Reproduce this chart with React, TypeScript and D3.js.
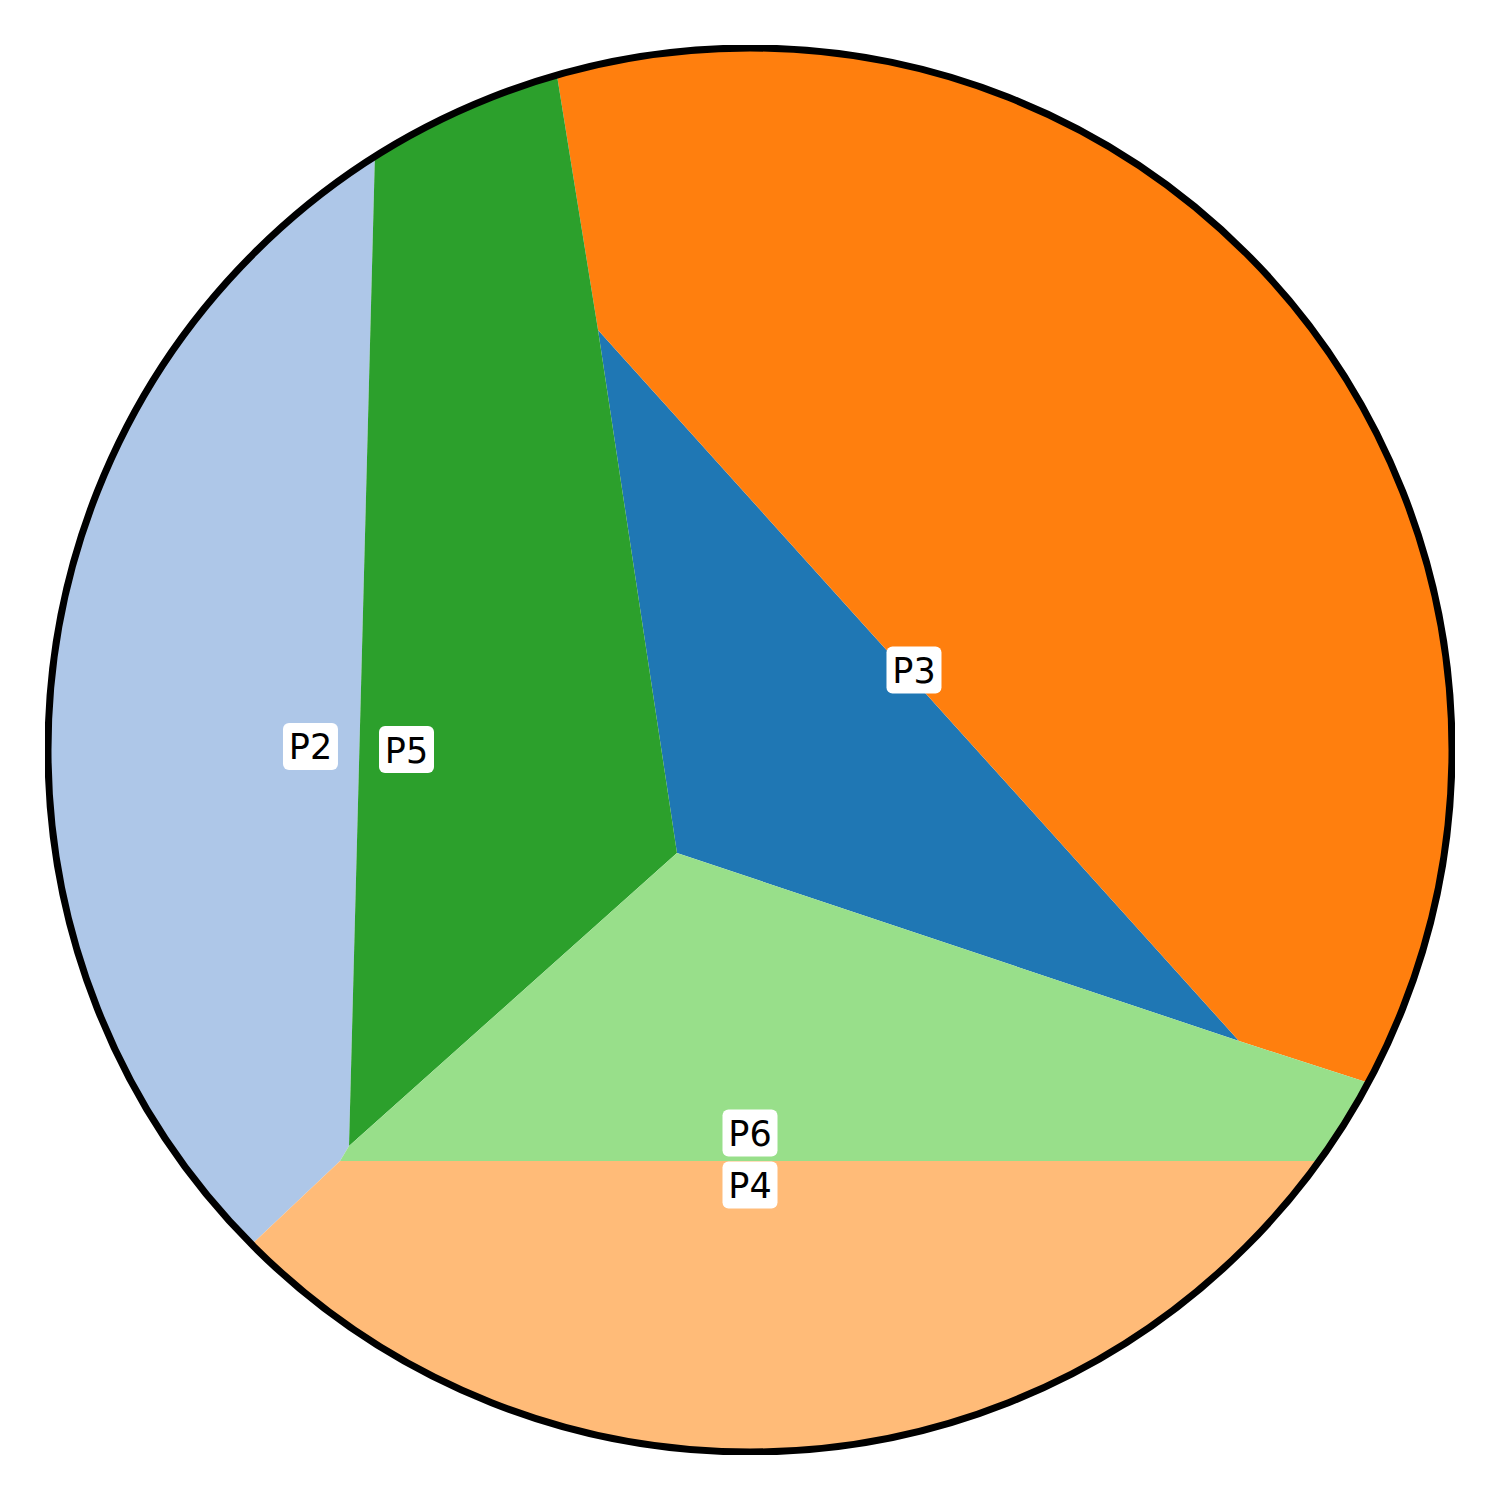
import React from 'react';
import * as d3 from 'd3';

// cells of the partition, in unit-disc coordinates (polygons run past the rim, the disc clips them)
const cellNames = ['P1', 'P2', 'P3', 'P4', 'P5', 'P6'];
const cellColours = ['#1f77b4', '#aec7e8', '#ff7f0e', '#ffbb78', '#2ca02c', '#98df8a'];

const cellP1: [number, number][] = [[-0.2165, 0.5983], [0.6966, -0.4145], [-0.104, -0.1467]];
const cellP2: [number, number][] = [[-1.21, 1.21], [-0.5248, 1.21], [-0.5712, -0.5641], [-0.584, -0.5855], [-1.21, -1.1766]];
const cellP3: [number, number][] = [[-0.3151, 1.21], [1.21, 1.21], [1.21, -0.5806], [0.6966, -0.4145], [-0.2165, 0.5983]];
const cellP4: [number, number][] = [[-0.584, -0.5855], [1.21, -0.5855], [1.21, -1.21], [-1.21, -1.21], [-1.21, -1.1766]];
const cellP5: [number, number][] = [[-0.5248, 1.21], [-0.3151, 1.21], [-0.2165, 0.5983], [-0.104, -0.1467], [-0.5712, -0.5641]];
const cellP6: [number, number][] = [[-0.104, -0.1467], [0.6966, -0.4145], [1.21, -0.5806], [1.21, -0.5855], [-0.584, -0.5855], [-0.5712, -0.5641]];
const cells = [cellP1, cellP2, cellP3, cellP4, cellP5, cellP6];

// labelled sites (P1 has no label in the picture)
const labelNames = ['P3', 'P2', 'P5', 'P6', 'P4'];
const labelX = [0.2336, -0.6261, -0.4893, 0.0, 0.0];
const labelY = [0.114, 0.005, 0.0007, -0.5456, -0.6197];

const App: React.FC = () => {
  const size = 1500;
  const cx = 750;
  const cy = 750;
  const radius = 702;

  const x = d3.scaleLinear().domain([-1, 1]).range([cx - radius, cx + radius]);
  const y = d3.scaleLinear().domain([-1, 1]).range([cy + radius, cy - radius]);

  const line = d3.line<[number, number]>()
    .x(d => x(d[0]))
    .y(d => y(d[1]))
    .curve(d3.curveLinearClosed);

  return (
    <svg
      width={size}
      height={size}
      style={{ position: 'absolute', left: 0, top: 0, background: 'white' }}
    >
      <defs>
        <clipPath id="disc">
          <circle cx={cx} cy={cy} r={radius} />
        </clipPath>
        <clipPath id="axesBox">
          <rect x={45} y={45} width={size - 90} height={size - 90} />
        </clipPath>
      </defs>

      <g clipPath="url(#disc)">
        {cells.map((c, i) => (
          <path key={cellNames[i]} d={line(c) ?? ''} fill={cellColours[i]} />
        ))}
      </g>

      <circle
        cx={cx}
        cy={cy}
        r={radius}
        fill="none"
        stroke="black"
        strokeWidth={7}
        clipPath="url(#axesBox)"
      />

      {labelNames.map((name, i) => {
        const px = x(labelX[i]);
        const py = y(labelY[i]);
        return (
          <g key={name}>
            <rect x={px - 27.5} y={py - 23.5} width={55} height={47} rx={6} ry={6} fill="white" />
            <text
              x={px}
              y={py + 13}
              textAnchor="middle"
              fontFamily="DejaVu Sans"
              fontSize={35}
              fill="black"
            >
              {name}
            </text>
          </g>
        );
      })}
    </svg>
  );
};

export default App;
